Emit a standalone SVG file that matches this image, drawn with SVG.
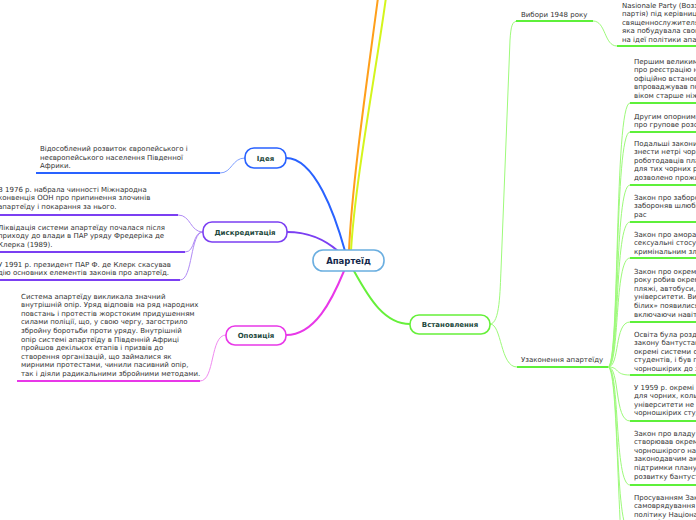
<svg xmlns="http://www.w3.org/2000/svg" width="696" height="520" viewBox="0 0 696 520">
<style>
.leaf{font-family:"DejaVu Sans",Verdana,sans-serif;font-size:7px;fill:#333}
.lbl{font-family:"DejaVu Sans",Verdana,sans-serif;font-size:7px;font-weight:bold;fill:#1e4a40;text-anchor:middle}
.ctr{font-family:"DejaVu Sans",Verdana,sans-serif;font-size:8.5px;font-weight:bold;fill:#14284b;text-anchor:middle}
.c{fill:none;stroke-linecap:round}
.node{fill:#fff;stroke-width:1.6}
.ub{stroke:#2962ff;stroke-width:2;fill:none}
.cb{stroke:#7fa0ff;stroke-width:1;fill:none}
.up{stroke:#7b3ff2;stroke-width:2;fill:none}
.cp{stroke:#b08af5;stroke-width:1;fill:none}
.um{stroke:#e838e8;stroke-width:2;fill:none}
.cm{stroke:#f08af0;stroke-width:1;fill:none}
.ug{stroke:#5ef03a;stroke-width:2;fill:none}
.cg{stroke:#9dfa7a;stroke-width:1;fill:none}
</style>
<g id="connectors">
<path class="c" d="M349,251 C352,180 370,60 379,-10" stroke="#ff9f1a" stroke-width="2"/>
<path class="c" d="M351,251 C355,180 378,60 387,-10" stroke="#d4f51c" stroke-width="2"/>
<path class="c" d="M286,158 C315,158 335,215 345,251" stroke="#2962ff" stroke-width="2"/>
<path class="c" d="M287,232 C310,232 325,240 338,251" stroke="#7b3ff2" stroke-width="2"/>
<path class="c" d="M286,335 C315,335 332,300 344,271" stroke="#e838e8" stroke-width="2"/>
<path class="c" d="M354,271 C370,300 385,324 410,324" stroke="#66f03a" stroke-width="2"/>
<path class="cb" d="M245,158 C232,158 232,173 220,173"/>
<path class="ub" d="M220,173 L36,173"/>
<path class="cp" d="M203,232 C190,232 191,215 178,215"/>
<path class="up" d="M178,215 L-2,215"/>
<path class="cp" d="M203,232 C192,232 196,252 185,252"/>
<path class="up" d="M185,252 L-2,252"/>
<path class="cp" d="M203,232 C190,232 193,280 180,280"/>
<path class="up" d="M180,280 L-2,280"/>
<path class="cm" d="M226,335 C210,335 215,381 200,381"/>
<path class="um" d="M200,381 L17,381"/>
<path class="cg" d="M490,324 C500,324 500,290 501,270 L510,40 C511,26 512,21 518,21"/>
<path class="ug" d="M516,21 L593,21"/>
<path class="cg" d="M593,21 C606,21 604,46 617,46"/>
<path class="ug" d="M617,46 L700,46"/>
<path class="cg" d="M490,324 C502,324 500,367 517,367"/>
<path class="ug" d="M517,367 L608,367"/>
<path class="cg" d="M608,367 C620,367 614,103 630,103"/>
<path class="cg" d="M608,367 C620,367 614,132 630,132"/>
<path class="cg" d="M608,367 C620,367 614,185 630,185"/>
<path class="cg" d="M608,367 C620,367 614,222 630,222"/>
<path class="cg" d="M608,367 C620,367 614,258 630,258"/>
<path class="cg" d="M608,367 C620,367 614,322 630,322"/>
<path class="cg" d="M608,367 C620,367 614,375 630,375"/>
<path class="cg" d="M608,367 C620,367 614,421 630,421"/>
<path class="cg" d="M608,367 C620,367 614,485 630,485"/>
<path class="cg" d="M608,367 C620,367 614,532 630,532"/>
<path class="cg" d="M608,367 C620,367 616,590 630,590"/>
<path class="ug" d="M630,103 L700,103 M630,132 L700,132 M630,185 L700,185 M630,222 L700,222 M630,258 L700,258 M630,322 L700,322 M630,375 L700,375 M630,421 L700,421 M630,485 L700,485"/>
</g>
<g id="center">
<rect class="node" x="313" y="250" width="71" height="21" rx="10" stroke="#6aaee0"/>
<text class="ctr" x="348.5" y="264">Апартеїд</text>
</g>
<g id="idea">
<rect class="node" x="245" y="148" width="41" height="20" rx="9" stroke="#2962ff"/>
<text class="lbl" x="265.5" y="160.5">Ідея</text>
</g>
<g id="idea-leaf">
<text class="leaf" x="40" y="151">Відособлений розвиток європейського і</text>
<text class="leaf" x="40" y="159.6">неєвропейського населення Південної</text>
<text class="leaf" x="40" y="168.2">Африки.</text>
</g>
<g id="discredit">
<rect class="node" x="203" y="222" width="84" height="20" rx="9" stroke="#7b3ff2"/>
<text class="lbl" x="245" y="234.5">Дискредитація</text>
</g>
<g id="discredit-leaf1">
<text class="leaf" x="-2" y="191.5">В 1976 р. набрала чинності Міжнародна</text>
<text class="leaf" x="-2" y="200.1">конвенція ООН про припинення злочинів</text>
<text class="leaf" x="-2" y="208.7">апартеїду і покарання за нього.</text>
</g>
<g id="discredit-leaf2">
<text class="leaf" x="-2" y="229.5">Ліквідація системи апартеїду почалася після</text>
<text class="leaf" x="-2" y="238.1">приходу до влади в ПАР уряду Фредеріка де</text>
<text class="leaf" x="-2" y="246.7">Клерка (1989).</text>
</g>
<g id="discredit-leaf3">
<text class="leaf" x="-2" y="266.5">У 1991 р. президент ПАР Ф. де Клерк скасував</text>
<text class="leaf" x="-2" y="275.1">дію основних елементів законів про апартеїд.</text>
</g>
<g id="opposition">
<rect class="node" x="226" y="326" width="60" height="19" rx="9" stroke="#e838e8"/>
<text class="lbl" x="256" y="338">Опозиція</text>
</g>
<g id="opposition-leaf">
<text class="leaf" x="21" y="298.5">Система апартеїду викликала значний</text>
<text class="leaf" x="21" y="307.1">внутрішній опір. Уряд відповів на ряд народних</text>
<text class="leaf" x="21" y="315.7">повстань і протестів жорстоким придушенням</text>
<text class="leaf" x="21" y="324.3">силами поліції, що, у свою чергу, загострило</text>
<text class="leaf" x="21" y="332.9">збройну боротьби проти уряду. Внутрішній</text>
<text class="leaf" x="21" y="341.5">опір системі апартеїду в Південній Африці</text>
<text class="leaf" x="21" y="350.1">пройшов декількох етапів і призвів до</text>
<text class="leaf" x="21" y="358.7">створення організацій, що займалися як</text>
<text class="leaf" x="21" y="367.3">мирними протестами, чинили пасивний опір,</text>
<text class="leaf" x="21" y="375.9">так і діяли радикальними збройними методами.</text>
</g>
<g id="establishment">
<rect class="node" x="410" y="315" width="80" height="19" rx="9" stroke="#66f03a"/>
<text class="lbl" x="450" y="327">Встановлення</text>
</g>
<g id="elections">
<text class="leaf" x="521" y="16.5">Вибори 1948 року</text>
</g>
<g id="elections-leaf">
<text class="leaf" x="622" y="7.5">Nasionale Party (Возз'єднана національна</text>
<text class="leaf" x="622" y="16.1">партія) під керівництвом протестантського</text>
<text class="leaf" x="622" y="24.7">священнослужителя Даніеля Малана,</text>
<text class="leaf" x="622" y="33.3">яка побудувала свою передвиборчу програму</text>
<text class="leaf" x="622" y="41.9">на ідеї політики апартеїду.</text>
</g>
<g id="legalization">
<text class="leaf" x="521" y="361.5">Узаконення апартеїду</text>
</g>
<g id="law1">
<text class="leaf" x="634" y="63.5">Першим великим законом апартеїду</text>
<text class="leaf" x="634" y="72.1">про реєстрацію населення 1950 року</text>
<text class="leaf" x="634" y="80.7">офіційно встановлювалась расова</text>
<text class="leaf" x="634" y="89.3">впроваджував посвідчення для осіб</text>
<text class="leaf" x="634" y="97.9">віком старше ніж 18 років.</text>
</g>
<g id="law2">
<text class="leaf" x="634" y="118.5">Другим опорним законом став Закон</text>
<text class="leaf" x="634" y="127.1">про групове розселення 1950 року.</text>
</g>
<g id="law3">
<text class="leaf" x="634" y="145.5">Подальші закони дозволяли уряду</text>
<text class="leaf" x="634" y="154.1">знести нетрі чорношкірих і змушували</text>
<text class="leaf" x="634" y="162.7">роботодавців платити за житло</text>
<text class="leaf" x="634" y="171.3">для тих чорних робітників, яким було</text>
<text class="leaf" x="634" y="179.9">дозволено проживати в містах.</text>
</g>
<g id="law4">
<text class="leaf" x="634" y="199.5">Закон про заборону змішаних шлюбів</text>
<text class="leaf" x="634" y="208.1">забороняв шлюби між особами різних</text>
<text class="leaf" x="634" y="216.7">рас</text>
</g>
<g id="law5">
<text class="leaf" x="634" y="236.5">Закон про аморальність робив</text>
<text class="leaf" x="634" y="245.1">сексуальні стосунки з особою іншої раси</text>
<text class="leaf" x="634" y="253.7">кримінальним злочином.</text>
</g>
<g id="law6">
<text class="leaf" x="634" y="273.5">Закон про окремі зручності 1953</text>
<text class="leaf" x="634" y="282.1">року робив окремими громадські місця:</text>
<text class="leaf" x="634" y="290.7">пляжі, автобуси, лікарні, школи та</text>
<text class="leaf" x="634" y="299.3">університети. Вивіски «тільки для</text>
<text class="leaf" x="634" y="307.9">білих» появилися повсюдно,</text>
<text class="leaf" x="634" y="316.5">включаючи навіть лавки в парках.</text>
</g>
<g id="law7">
<text class="leaf" x="634" y="336.5">Освіта була розділена за допомогою</text>
<text class="leaf" x="634" y="345.1">закону бантустанів, що створював</text>
<text class="leaf" x="634" y="353.7">окремі системи освіти для чорношкірих</text>
<text class="leaf" x="634" y="362.3">студентів, і був покликаний готувати</text>
<text class="leaf" x="634" y="370.9">чорношкірих до звичайної праці.</text>
</g>
<g id="law8">
<text class="leaf" x="634" y="389.5">У 1959 р. окремі університети створено</text>
<text class="leaf" x="634" y="398.1">для чорних, кольорових та індійців,</text>
<text class="leaf" x="634" y="406.7">університети не мали права приймати</text>
<text class="leaf" x="634" y="415.3">чорношкірих студентів.</text>
</g>
<g id="law9">
<text class="leaf" x="634" y="435.5">Закон про владу банту 1951 року</text>
<text class="leaf" x="634" y="444.1">створював окремі державні структури</text>
<text class="leaf" x="634" y="452.7">чорношкірого населення і був першим</text>
<text class="leaf" x="634" y="461.3">законодавчим актом для</text>
<text class="leaf" x="634" y="469.9">підтримки плану уряду щодо окремого</text>
<text class="leaf" x="634" y="478.5">розвитку бантустанів.</text>
</g>
<g id="law10">
<text class="leaf" x="634" y="499.5">Просуванням Закону про розвиток</text>
<text class="leaf" x="634" y="508.1">самоврядування банту 1959 року уряд</text>
<text class="leaf" x="634" y="516.7">політику Національної партії</text>
<text class="leaf" x="634" y="525.3">щодо бантустанів.</text>
</g>
</svg>
